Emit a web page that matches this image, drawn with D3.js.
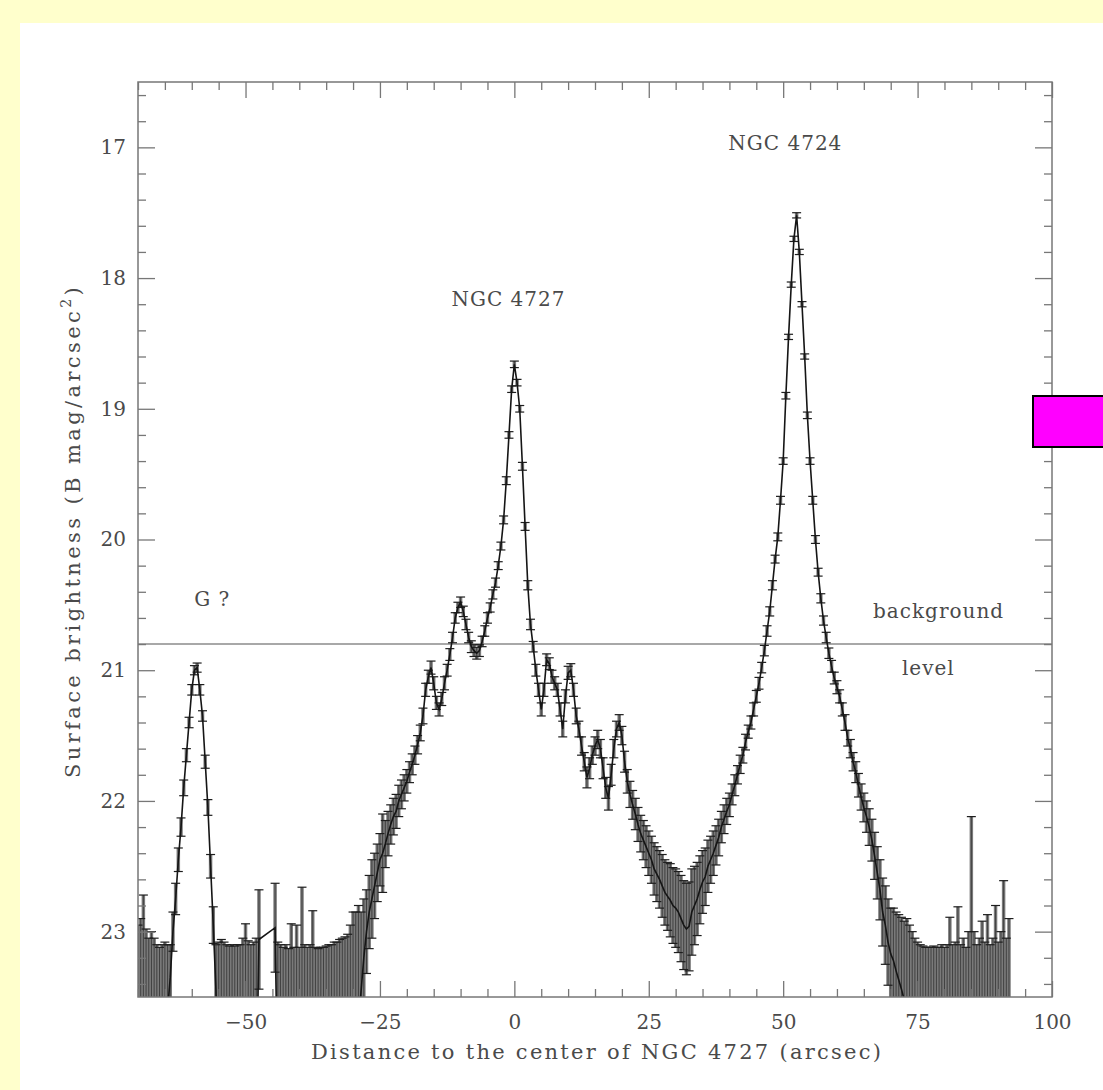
<!DOCTYPE html>
<html>
<head>
<meta charset="utf-8">
<script src="https://cdn.jsdelivr.net/npm/d3@7"></script>
<style>
  body { margin: 0; background: #ffffcc; }
  svg { display: block; }
  text { font-family: "DejaVu Serif", "Liberation Serif", serif; fill: #4a4a4a; }
</style>
</head>
<body>
<svg id="chart" width="1103" height="1090"></svg>
<script>
// profile sampled every 0.5 arcsec, starting at -70
var xStart = -70, xStep = 0.5;

// surface brightness (B mag/arcsec^2); 24.3 = below the plot (background noise only), null = no data
var mag = [
  // -70 .. -65.5
  24.3, 24.3, 24.3, 24.3, 24.3, 24.3, 24.3, 24.3, 24.3, 24.3,
  // -65 .. -60.5
  24.3, 23.6, 23.35, 23.0, 22.75, 22.45, 22.2, 21.9, 21.65, 21.4,
  // -60 .. -55.5
  21.15, 21.0, 20.98, 21.15, 21.35, 21.7, 22.05, 22.5, 22.95, 23.45,
  // -55 .. -50.5
  24.3, 24.3, 24.3, 24.3, 24.3, 24.3, 24.3, 24.3, 24.3, 24.3,
  // -50 .. -45.5
  24.3, 24.3, 24.3, 24.3, 24.3, 23.06, null, null, null, null,
  // -45 .. -40.5
  null, 22.97, 24.3, 24.3, 24.3, 24.3, 24.3, 24.3, 24.3, 24.3,
  // -40 .. -35.5
  24.3, 24.3, 24.3, 24.3, 24.3, 24.3, 24.3, 24.3, 24.3, 24.3,
  // -35 .. -30.5
  24.3, 24.3, 24.3, 24.3, 24.3, 24.3, 24.3, 24.3, 24.3, 24.3,
  // -30 .. -25.5
  24.3, 24.0, 23.7, 23.45, 23.2, 23.0, 22.85, 22.75, 22.65, 22.55,
  // -25 .. -20.5
  22.45, 22.4, 22.33, 22.25, 22.18, 22.12, 22.08, 22.0, 21.95, 21.9,
  // -20 .. -15.5
  21.85, 21.78, 21.72, 21.65, 21.57, 21.48, 21.35, 21.15, 21.05, 20.98,
  // -15 .. -10.5
  21.1, 21.25, 21.3, 21.22, 21.1, 21.0, 20.88, 20.75, 20.6, 20.52,
  // -10 .. -5.5
  20.48, 20.55, 20.65, 20.75, 20.82, 20.85, 20.87, 20.85, 20.78, 20.7,
  // -5 .. -0.5
  20.6, 20.52, 20.42, 20.33, 20.2, 20.05, 19.85, 19.55, 19.2, 18.85,
  // 0 .. 4.5
  18.66, 18.8, 19.0, 19.44, 19.9, 20.35, 20.65, 20.82, 21.0, 21.15,
  // 5 .. 9.5
  21.3, 21.15, 20.92, 20.95, 21.05, 21.1, 21.15, 21.3, 21.45, 21.2,
  // 10 .. 14.5
  21.02, 21.0, 21.15, 21.35, 21.45, 21.58, 21.7, 21.82, 21.75, 21.65,
  // 15 .. 19.5
  21.58, 21.53, 21.6, 21.75, 21.9, 21.98, 21.8, 21.6, 21.45, 21.4,
  // 20 .. 24.5
  21.5, 21.7, 21.85, 21.95, 22.03, 22.1, 22.18, 22.25, 22.3, 22.35,
  // 25 .. 29.5
  22.4, 22.45, 22.52, 22.56, 22.6, 22.65, 22.7, 22.73, 22.76, 22.8,
  // 30 .. 34.5
  22.82, 22.85, 22.9, 22.95, 22.98, 22.96, 22.85, 22.8, 22.75, 22.68,
  // 35 .. 39.5
  22.62, 22.58, 22.5, 22.45, 22.4, 22.34, 22.28, 22.2, 22.14, 22.08,
  // 40 .. 44.5
  22.03, 21.95, 21.88, 21.8, 21.72, 21.65, 21.55, 21.47, 21.4, 21.3,
  // 45 .. 49.5
  21.2, 21.1, 20.98, 20.85, 20.7, 20.55, 20.35, 20.15, 19.98, 19.7,
  // 50 .. 54.5
  19.4, 18.9, 18.45, 18.05, 17.7, 17.52, 17.8, 18.2, 18.6, 19.05,
  // 55 .. 59.5
  19.4, 19.7, 20.0, 20.25, 20.45, 20.62, 20.75, 20.87, 20.97, 21.06,
  // 60 .. 64.5
  21.13, 21.2, 21.3, 21.4, 21.52, 21.6, 21.7, 21.78, 21.88, 21.97,
  // 65 .. 69.5
  22.05, 22.12, 22.2, 22.3, 22.42, 22.55, 22.68, 22.85, 22.95, 23.08,
  // 70 .. 74.5
  23.17, 23.22, 23.3, 23.37, 23.44, 23.52, 24.3, 24.3, 24.3, 24.3,
  // 75 .. 79.5
  24.3, 24.3, 24.3, 24.3, 24.3, 24.3, 24.3, 24.3, 24.3, 24.3,
  // 80 .. 84.5
  24.3, 24.3, 24.3, 24.3, 24.3, 24.3, 24.3, 24.3, 24.3, 24.3,
  // 85 .. 89.5
  24.3, 24.3, 24.3, 24.3, 24.3, 24.3, 24.3, 24.3, 24.3, 24.3,
  // 90 .. 92
  24.3, 24.3, 24.3, 24.3, 24.3
];

// error bars (mag), drawn symmetric
var err = [
  1.35, 1.4, 1.58, 1.32, 1.25, 1.3, 1.25, 1.2, 1.18, 1.2,
  1.22, 0.5, 0.25, 0.15, 0.12, 0.09, 0.07, 0.06, 0.05, 0.04,
  0.04, 0.035, 0.035, 0.04, 0.04, 0.05, 0.06, 0.09, 0.14, 0.35,
  1.22, 1.24, 1.22, 1.2, 1.19, 1.2, 1.19, 1.2, 1.2, 1.25,
  1.36, 1.23, 1.2, 1.22, 1.25, 0.38, null, null, null, null,
  null, 0.34, 1.22, 1.2, 1.18, 1.2, 1.17, 1.36, 1.18, 1.35,
  1.18, 1.64, 1.2, 1.18, 1.2, 1.46, 1.18, 1.17, 1.18, 1.18,
  1.19, 1.2, 1.2, 1.22, 1.22, 1.24, 1.25, 1.26, 1.28, 1.35,
  1.45, 1.15, 0.9, 0.6, 0.45, 0.32, 0.28, 0.3, 0.25, 0.22,
  0.2, 0.3, 0.18, 0.17, 0.15, 0.14, 0.13, 0.12, 0.11, 0.1,
  0.09, 0.08, 0.08, 0.07, 0.07, 0.06, 0.06, 0.05, 0.05, 0.05,
  0.05, 0.05, 0.05, 0.05, 0.05, 0.045, 0.045, 0.04, 0.04, 0.04,
  0.04, 0.04, 0.04, 0.04, 0.045, 0.045, 0.045, 0.045, 0.04, 0.04,
  0.04, 0.035, 0.035, 0.035, 0.03, 0.03, 0.03, 0.03, 0.025, 0.025,
  0.025, 0.025, 0.025, 0.03, 0.03, 0.035, 0.04, 0.04, 0.045, 0.05,
  0.05, 0.05, 0.045, 0.045, 0.05, 0.05, 0.05, 0.05, 0.06, 0.05,
  0.05, 0.05, 0.05, 0.06, 0.06, 0.07, 0.07, 0.08, 0.08, 0.07,
  0.07, 0.07, 0.07, 0.08, 0.08, 0.09, 0.08, 0.07, 0.06, 0.06,
  0.07, 0.08, 0.09, 0.1, 0.11, 0.12, 0.13, 0.14, 0.15, 0.16,
  0.17, 0.18, 0.2, 0.21, 0.22, 0.24, 0.25, 0.26, 0.28, 0.29,
  0.3, 0.31, 0.33, 0.34, 0.35, 0.34, 0.33, 0.3, 0.28, 0.26,
  0.24, 0.22, 0.2, 0.18, 0.17, 0.15, 0.14, 0.12, 0.11, 0.1,
  0.09, 0.08, 0.08, 0.07, 0.07, 0.06, 0.06, 0.05, 0.05, 0.05,
  0.045, 0.045, 0.04, 0.04, 0.04, 0.035, 0.035, 0.03, 0.03, 0.03,
  0.025, 0.025, 0.02, 0.02, 0.02, 0.02, 0.02, 0.02, 0.02, 0.025,
  0.025, 0.03, 0.03, 0.03, 0.035, 0.035, 0.04, 0.04, 0.045, 0.045,
  0.05, 0.05, 0.05, 0.06, 0.06, 0.07, 0.07, 0.08, 0.09, 0.1,
  0.11, 0.12, 0.14, 0.16, 0.18, 0.2, 0.23, 0.26, 0.3, 0.33,
  0.35, 0.4, 0.45, 0.5, 0.55, 0.6, 1.4, 1.35, 1.3, 1.25,
  1.22, 1.2, 1.19, 1.18, 1.18, 1.18, 1.19, 1.18, 1.18, 1.2,
  1.18, 1.2, 1.41, 1.2, 1.22, 1.49, 1.2, 1.25, 1.18, 1.3,
  2.18, 1.3, 1.2, 1.25, 1.38, 1.22, 1.43, 1.2, 1.25, 1.5,
  1.22, 1.3, 1.69, 1.25, 1.4
];

var xTicks = [-50, -25, 0, 25, 50, 75, 100];
var yTicks = [17, 18, 19, 20, 21, 22, 23];
var backgroundLevel = 20.8;

var notes = [
  {text: "NGC 4727", x: -1.1, m: 18.21},
  {text: "NGC 4724", x: 50.4, m: 17.02},
  {text: "G ?", x: -56.2, m: 20.51},
  {text: "background", x: 78.9, m: 20.6},
  {text: "level", x: 77.0, m: 21.04}
];

var plotL = 138, plotR = 1052, plotT = 82, plotB = 997;

var svg = d3.select("#chart");

// page panels
svg.append("rect").attr("width", 1103).attr("height", 1090).attr("fill", "#ffffcc");
svg.append("rect").attr("x", 20).attr("y", 23).attr("width", 1083).attr("height", 1067).attr("fill", "#ffffff");

var x = d3.scaleLinear().domain([-70, 100]).range([plotL, plotR]);
var y = d3.scaleLinear().domain([16.5, 23.5]).range([plotT, plotB]);

svg.append("clipPath").attr("id", "plotclip")
    .append("rect")
    .attr("x", plotL).attr("y", plotT)
    .attr("width", plotR - plotL).attr("height", plotB - plotT);

var pts = mag.map(function(m, i) {
    return {x: xStart + i * xStep, m: m, e: err[i]};
}).filter(function(d) { return d.m !== null; });

var plot = svg.append("g").attr("clip-path", "url(#plotclip)");

// background level
plot.append("line")
    .attr("x1", plotL).attr("x2", plotR)
    .attr("y1", y(backgroundLevel)).attr("y2", y(backgroundLevel))
    .attr("stroke", "#a8a8a8")
    .attr("stroke-width", 2);

var bw = x(xStep) - x(0);

// error bars: grey body, dark stem, caps
plot.append("g").selectAll("rect")
    .data(pts)
    .enter()
    .append("rect")
    .attr("x", function(d) { return x(d.x) - bw / 2 - 0.4; })
    .attr("width", bw + 0.8)
    .attr("y", function(d) { return y(d.m - d.e); })
    .attr("height", function(d) { return y(d.m + d.e) - y(d.m - d.e); })
    .attr("fill", "#7a7a7a");

plot.append("g").selectAll("line")
    .data(pts)
    .enter()
    .append("line")
    .attr("x1", function(d) { return x(d.x); })
    .attr("x2", function(d) { return x(d.x); })
    .attr("y1", function(d) { return y(d.m - d.e); })
    .attr("y2", function(d) { return y(d.m + d.e); })
    .attr("stroke", "#3a3a3a")
    .attr("stroke-width", 0.9);

var caps = plot.append("g").attr("stroke", "#1e1e1e").attr("stroke-width", 1.2);
[-1, 1].forEach(function(s) {
    caps.selectAll("line.c" + (s + 1))
        .data(pts)
        .enter()
        .append("line")
        .attr("class", "c" + (s + 1))
        .attr("x1", function(d) { return x(d.x) - 4.5; })
        .attr("x2", function(d) { return x(d.x) + 4.5; })
        .attr("y1", function(d) { return y(d.m + s * d.e); })
        .attr("y2", function(d) { return y(d.m + s * d.e); });
});

// profile line
plot.append("path")
    .datum(pts)
    .attr("fill", "none")
    .attr("stroke", "#151515")
    .attr("stroke-width", 1.6)
    .attr("d", d3.line()
        .x(function(d) { return x(d.x); })
        .y(function(d) { return y(d.m); }));

// axes, ticks inward on all four sides
var xMinor = d3.range(-70, 101, 5).filter(function(v) { return xTicks.indexOf(v) < 0; });
var yMinor = d3.range(83, 118).filter(function(v) { return v % 5 !== 0; })
    .map(function(v) { return v / 5; });

function styleAxis(g) {
    g.select(".domain").remove();
    g.selectAll(".tick line").attr("stroke", "#777").attr("stroke-width", 1.3);
    g.selectAll(".tick text").attr("font-size", 20).attr("fill", "#4a4a4a")
        .attr("font-family", "DejaVu Serif, Liberation Serif, serif");
}

svg.append("g").attr("transform", "translate(0," + plotB + ")")
    .call(d3.axisBottom(x).tickValues(xTicks).tickSizeInner(-16).tickSizeOuter(0).tickPadding(18))
    .call(styleAxis);
svg.append("g").attr("transform", "translate(0," + plotB + ")")
    .call(d3.axisBottom(x).tickValues(xMinor).tickSizeInner(-8).tickSizeOuter(0).tickFormat(""))
    .call(styleAxis);
svg.append("g").attr("transform", "translate(0," + plotT + ")")
    .call(d3.axisTop(x).tickValues(xTicks).tickSizeInner(-16).tickSizeOuter(0).tickFormat(""))
    .call(styleAxis);
svg.append("g").attr("transform", "translate(0," + plotT + ")")
    .call(d3.axisTop(x).tickValues(xMinor).tickSizeInner(-8).tickSizeOuter(0).tickFormat(""))
    .call(styleAxis);

svg.append("g").attr("transform", "translate(" + plotL + ",0)")
    .call(d3.axisLeft(y).tickValues(yTicks).tickFormat(d3.format("d"))
        .tickSizeInner(-17).tickSizeOuter(0).tickPadding(12))
    .call(styleAxis);
svg.append("g").attr("transform", "translate(" + plotL + ",0)")
    .call(d3.axisLeft(y).tickValues(yMinor).tickSizeInner(-8).tickSizeOuter(0).tickFormat(""))
    .call(styleAxis);
svg.append("g").attr("transform", "translate(" + plotR + ",0)")
    .call(d3.axisRight(y).tickValues(yTicks).tickSizeInner(-17).tickSizeOuter(0).tickFormat(""))
    .call(styleAxis);
svg.append("g").attr("transform", "translate(" + plotR + ",0)")
    .call(d3.axisRight(y).tickValues(yMinor).tickSizeInner(-8).tickSizeOuter(0).tickFormat(""))
    .call(styleAxis);

// frame
svg.append("rect")
    .attr("x", plotL).attr("y", plotT)
    .attr("width", plotR - plotL).attr("height", plotB - plotT)
    .attr("fill", "none")
    .attr("stroke", "#777")
    .attr("stroke-width", 1.5);

// annotations
svg.append("g").selectAll("text")
    .data(notes)
    .enter()
    .append("text")
    .attr("x", function(d) { return x(d.x); })
    .attr("y", function(d) { return y(d.m); })
    .attr("text-anchor", "middle")
    .attr("font-size", 20)
    .attr("letter-spacing", 1)
    .text(function(d) { return d.text; });

// axis titles
svg.append("text")
    .attr("x", (plotL + plotR) / 2 + 1)
    .attr("y", 1059)
    .attr("text-anchor", "middle")
    .attr("font-size", 21)
    .attr("textLength", 570)
    .attr("lengthAdjust", "spacing")
    .text("Distance to the center of NGC 4727 (arcsec)");

var yt = svg.append("text")
    .attr("transform", "translate(80,531) rotate(-90)")
    .attr("text-anchor", "middle")
    .attr("font-size", 21)
    .attr("letter-spacing", 3.4);
yt.append("tspan").text("Surface brightness (B mag/arcsec");
yt.append("tspan").attr("font-size", 14).attr("dy", -9).text("2");
yt.append("tspan").attr("dy", 9).text(")");

// magenta marker at the right edge
svg.append("rect")
    .attr("x", 1033).attr("y", 396)
    .attr("width", 80).attr("height", 51)
    .attr("fill", "#ff00ff")
    .attr("stroke", "#000")
    .attr("stroke-width", 2);
</script>
</body>
</html>
